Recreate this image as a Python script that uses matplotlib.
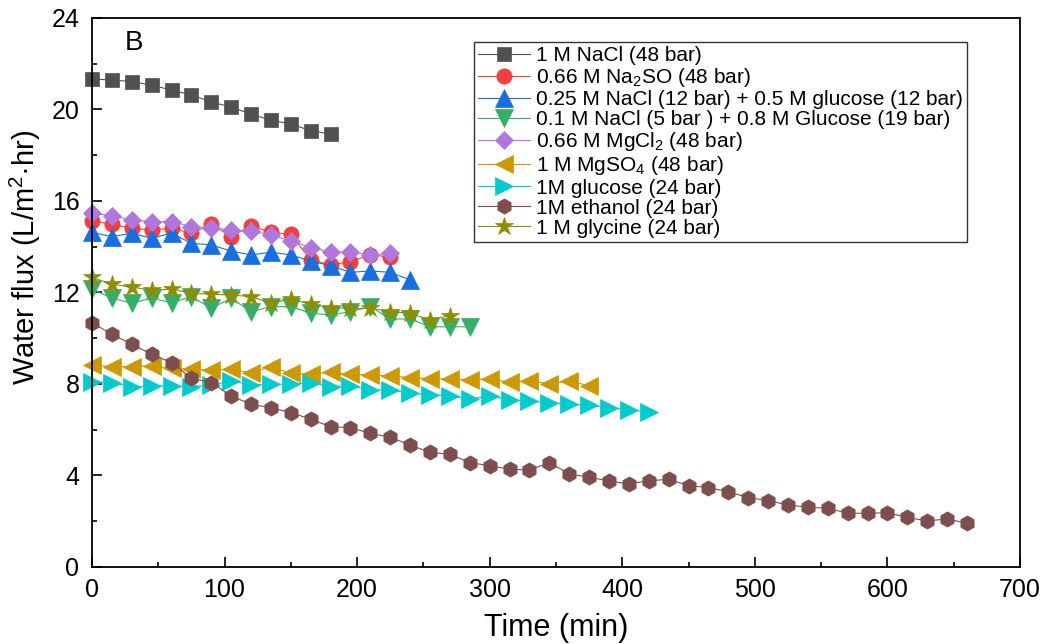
import numpy as np
import matplotlib
matplotlib.use("Agg")
import matplotlib.pyplot as plt
from matplotlib.ticker import MultipleLocator

plt.rcParams['font.family'] = ['Liberation Sans', 'DejaVu Sans']
plt.rcParams['mathtext.default'] = 'regular'

# water flux readings, one every 15 min
nacl = [21.33, 21.29, 21.22, 21.06, 20.85, 20.63, 20.33, 20.10, 19.80, 19.53, 19.37, 19.07, 18.93]
na2so = [15.13, 14.98, 14.81, 14.73, 14.81, 14.59, 14.98, 14.44, 14.92, 14.63, 14.54, 13.42, 13.20,
         13.35, 13.64, 13.56]
nacl_glu = [14.63, 14.44, 14.59, 14.37, 14.59, 14.15, 14.08, 13.81, 13.64, 13.76, 13.64, 13.38, 13.17,
            12.88, 12.94, 12.88, 12.55]
nacl_glu2 = [12.15, 11.75, 11.53, 11.75, 11.55, 11.82, 11.31, 11.75, 11.16, 11.38, 11.38, 11.09, 11.02,
             11.16, 11.38, 10.84, 10.84, 10.50, 10.50, 10.50]
mgcl2 = [15.46, 15.36, 15.17, 15.10, 15.10, 14.88, 14.83, 14.73, 14.69, 14.51, 14.26, 13.96, 13.76,
         13.78, 13.64, 13.71]
mgso4 = [8.83, 8.76, 8.76, 8.79, 8.69, 8.64, 8.61, 8.64, 8.49, 8.76, 8.47, 8.42, 8.51, 8.42, 8.39,
         8.35, 8.28, 8.23, 8.22, 8.18, 8.23, 8.08, 8.14, 8.01, 8.12, 7.93]
glucose = [8.10, 8.06, 7.88, 7.91, 7.91, 7.88, 7.96, 8.13, 7.96, 7.99, 7.99, 8.06, 7.88, 7.93, 7.74,
           7.74, 7.60, 7.53, 7.48, 7.33, 7.48, 7.31, 7.26, 7.18, 7.13, 7.06, 6.96, 6.87, 6.77]
ethanol = [10.68, 10.17, 9.74, 9.30, 8.93, 8.25, 8.06, 7.48, 7.11, 6.96, 6.75, 6.46, 6.13, 6.09, 5.84,
           5.67, 5.33, 5.01, 4.93, 4.56, 4.43, 4.27, 4.24, 4.56, 4.07, 3.92, 3.76, 3.63, 3.77, 3.83,
           3.56, 3.47, 3.29, 3.03, 2.90, 2.71, 2.61, 2.57, 2.35, 2.35, 2.37, 2.17, 2.01, 2.10, 1.91]
glycine = [12.66, 12.36, 12.23, 12.11, 12.14, 11.97, 11.92, 11.89, 11.82, 11.53, 11.72, 11.48, 11.34,
           11.31, 11.31, 11.16, 11.09, 10.80, 10.99]

labels = ["1 M NaCl (48 bar)",
          "0.66 M Na$_2$SO (48 bar)",
          "0.25 M NaCl (12 bar) + 0.5 M glucose (12 bar)",
          "0.1 M NaCl (5 bar ) + 0.8 M Glucose (19 bar)",
          "0.66 M MgCl$_2$ (48 bar)",
          "1 M MgSO$_4$ (48 bar)",
          "1M glucose (24 bar)",
          "1M ethanol (24 bar)",
          "1 M glycine (24 bar)"]
series = [nacl, na2so, nacl_glu, nacl_glu2, mgcl2, mgso4, glucose, ethanol, glycine]
colors = ["#515151", "#F14040", "#1A6FDF", "#37AD6B", "#B177DE", "#CC9900", "#00CBCC", "#7D4E4E", "#8E8E00"]
markers = ["s", "o", "^", "v", "D", "<", ">", "h", "*"]
msizes = [9.5, 11, 12.5, 12.5, 9, 12.5, 12.5, 11, 13.5]

fig = plt.figure(figsize=(10.44, 6.44), dpi=100)
ax = fig.add_axes([0.0881, 0.1196, 0.8889, 0.8525])

for vals, lab, c, m, ms in zip(series, labels, colors, markers, msizes):
    t = 15 * np.arange(len(vals))
    ax.plot(t, vals, color=c, lw=0.8, marker=m, ms=ms, mec=c, mew=0.5, label=lab, clip_on=False)

ax.set_xlim(0, 700)
ax.set_ylim(0, 24)
ax.xaxis.set_major_locator(MultipleLocator(100))
ax.xaxis.set_minor_locator(MultipleLocator(50))
ax.yaxis.set_major_locator(MultipleLocator(4))
ax.yaxis.set_minor_locator(MultipleLocator(2))
ax.tick_params(which='both', direction='in', top=False, right=False, width=1.2)
ax.tick_params(which='major', length=7, labelsize=18)
ax.tick_params(which='minor', length=3.5)
ax.tick_params(axis='y', pad=9)
ax.tick_params(axis='x', pad=8)
for sp in ax.spines.values():
    sp.set_linewidth(1.3)

ax.set_xlabel("Time (min)", fontsize=22, labelpad=8)
ax.set_ylabel("Water flux (L/m$^2$·hr)", fontsize=21)
ax.yaxis.set_label_coords(-0.053, 0.565)
ax.text(0.035, 0.955, "B", transform=ax.transAxes, fontsize=20, va='center', ha='left')

leg = ax.legend(loc='upper left', bbox_to_anchor=(0.4116, 0.956), borderaxespad=0, fontsize=15,
                frameon=True, fancybox=False, edgecolor='black', handlelength=2.5, handletextpad=0.3,
                borderpad=0.2, labelspacing=0.05)
leg.get_frame().set_linewidth(1.0)

fig.savefig("out.png", dpi=100)
